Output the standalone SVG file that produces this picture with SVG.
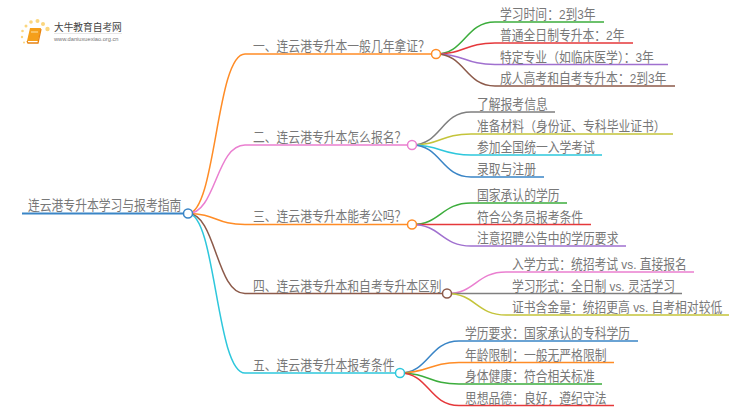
<svg xmlns="http://www.w3.org/2000/svg" width="750" height="410" viewBox="0 0 750 410">
<style>
text{font-family:"Liberation Sans","Noto Sans CJK SC",sans-serif;font-size:11.8px;fill:#787878;transform-box:fill-box;transform-origin:0 100%;transform:scaleY(1.14)}
.c path{fill:none;stroke-width:1.5}
.n circle{fill:#fff;stroke-width:1.5}
</style>
<rect width="750" height="410" fill="#fff"/>
<g id="logo">
<g fill="#fbd67e"><circle cx="31" cy="22" r="1.8"/><circle cx="37.500" cy="21" r="2"/><circle cx="43" cy="24" r="2"/><circle cx="47.500" cy="29" r="2.200"/><circle cx="26" cy="26" r="1.500"/><circle cx="22.500" cy="31" r="1.300"/><circle cx="22" cy="37" r="1.200"/><circle cx="24" cy="42.500" r="1"/></g>
<path d="M30 28h11l-3 13h-11z" fill="#f59f1a"/><path d="M27 41l1 2h10l3-14" fill="none" stroke="#e8830f" stroke-width="1.300"/><path d="M31 32h7" stroke="#fde3a8"/>
<text x="54" y="31" style="font-size:9.700px;fill:#444;transform:none">大牛教育自考网</text>
<path d="M54 33.500h68" stroke="#ddd" stroke-width=".7"/>
<text x="54" y="41" style="font-size:5.700px;fill:#777;transform:none">www.daniuxuexiao.org.cn</text>
</g>
<g id="connectors" class="c">
<path stroke="#3a85c6" style="stroke-width:2" d="M22 213.500H188"/>
<path stroke="#ff8c26" d="M188 213.500C216 213.500 216 54 245 54H436"/>
<path stroke="#ea7fd0" d="M188 213.500C216 213.500 216 145 245 145H412"/>
<path stroke="#ff8c26" d="M188 213.500C216 213.500 216 224.500 245 224.500H412"/>
<path stroke="#8c5a4a" d="M188 213.500C216 213.500 216 293.500 245 293.500H447"/>
<path stroke="#2ec7dc" d="M188 213.500C216 213.500 216 373 245 373H400"/>
<path stroke="#3cad3c" d="M436 54C465 54 465 22 495 22H604"/>
<path stroke="#e5383b" d="M436 54C465 54 465 43 495 43H633"/>
<path stroke="#a070cf" d="M436 54C465 54 465 64.500 495 64.500H668"/>
<path stroke="#8c5a4a" d="M436 54C465 54 465 86 495 86H675"/>
<path stroke="#7f7f7f" d="M412 145C441 145 441 112 471 112H555"/>
<path stroke="#c4c43a" d="M412 145C441 145 441 134 471 134H673"/>
<path stroke="#2ec7dc" d="M412 145C441 145 441 155 471 155H602"/>
<path stroke="#3a85c6" d="M412 145C441 145 441 177 471 177H544"/>
<path stroke="#3cad3c" d="M412 224.500C441 224.500 441 203 471 203H567"/>
<path stroke="#e5383b" d="M412 224.500C441 224.500 441 224.500 471 224.500H591"/>
<path stroke="#a070cf" d="M412 224.500C441 224.500 441 246 471 246H626"/>
<path stroke="#ea7fd0" d="M447 293.500C476 293.500 476 272 506 272H694"/>
<path stroke="#7f7f7f" d="M447 293.500C476 293.500 476 293.500 506 293.500H682"/>
<path stroke="#c4c43a" d="M447 293.500C476 293.500 476 315 506 315H729"/>
<path stroke="#3a85c6" d="M400 373C429 373 429 341 459 341H638"/>
<path stroke="#ff8c26" d="M400 373C429 373 429 362.500 459 362.500H614"/>
<path stroke="#3cad3c" d="M400 373C429 373 429 384 459 384H602"/>
<path stroke="#e5383b" d="M400 373C429 373 429 405.500 459 405.500H614"/>
</g>
<g id="root" class="n"><text x="28" y="210">连云港专升本学习与报考指南</text><circle cx="188" cy="213.500" r="4.500" stroke="#3a85c6"/></g>
<g id="b1" class="n"><text x="253" y="51">一、连云港专升本一般几年拿证&#xFF1F;</text><circle cx="436" cy="54" r="4.500" stroke="#ff8c26"/></g>
<g id="b2" class="n"><text x="253" y="142">二、连云港专升本怎么报名&#xFF1F;</text><circle cx="412" cy="145" r="4.500" stroke="#ea7fd0"/></g>
<g id="b3" class="n"><text x="253" y="221">三、连云港专升本能考公吗&#xFF1F;</text><circle cx="412" cy="224.500" r="4.500" stroke="#ff8c26"/></g>
<g id="b4" class="n"><text x="253" y="291">四、连云港专升本和自考专升本区别</text><circle cx="447" cy="293.500" r="4.500" stroke="#8c5a4a"/></g>
<g id="b5" class="n"><text x="253" y="370">五、连云港专升本报考条件</text><circle cx="400" cy="373" r="4.500" stroke="#2ec7dc"/></g>
<g id="l1a"><text x="500" y="19">学习时间&#xFF1A;2到3年</text></g>
<g id="l1b"><text x="500" y="40">普通全日制专升本&#xFF1A;2年</text></g>
<g id="l1c"><text x="500" y="62">特定专业&#xFF08;如临床医学&#xFF09;&#xFF1A;3年</text></g>
<g id="l1d"><text x="500" y="83">成人高考和自考专升本&#xFF1A;2到3年</text></g>
<g id="l2a"><text x="477" y="109">了解报考信息</text></g>
<g id="l2b"><text x="477" y="131">准备材料&#xFF08;身份证、专科毕业证书&#xFF09;</text></g>
<g id="l2c"><text x="477" y="152">参加全国统一入学考试</text></g>
<g id="l2d"><text x="477" y="174">录取与注册</text></g>
<g id="l3a"><text x="477" y="200">国家承认的学历</text></g>
<g id="l3b"><text x="477" y="222">符合公务员报考条件</text></g>
<g id="l3c"><text x="477" y="243">注意招聘公告中的学历要求</text></g>
<g id="l4a"><text x="512" y="269">入学方式&#xFF1A;统招考试 vs. 直接报名</text></g>
<g id="l4b"><text x="512" y="291">学习形式&#xFF1A;全日制 vs. 灵活学习</text></g>
<g id="l4c"><text x="512" y="312">证书含金量&#xFF1A;统招更高 vs. 自考相对较低</text></g>
<g id="l5a"><text x="465" y="338">学历要求&#xFF1A;国家承认的专科学历</text></g>
<g id="l5b"><text x="465" y="360">年龄限制&#xFF1A;一般无严格限制</text></g>
<g id="l5c"><text x="465" y="381">身体健康&#xFF1A;符合相关标准</text></g>
<g id="l5d"><text x="465" y="403">思想品德&#xFF1A;良好&#xFF0C;遵纪守法</text></g>
</svg>
